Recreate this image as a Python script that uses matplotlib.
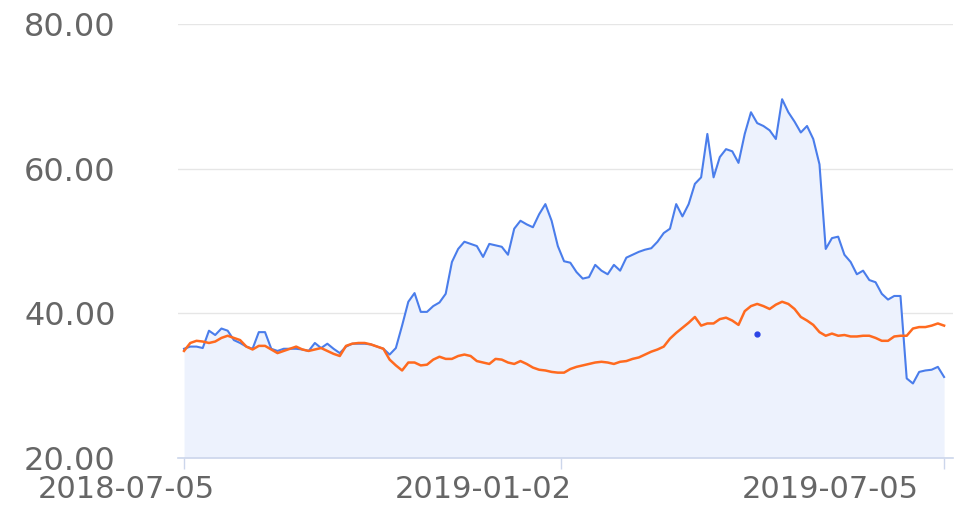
import numpy as np
import pandas as pd
import matplotlib
matplotlib.use("Agg")
import matplotlib.pyplot as plt
from matplotlib.transforms import ScaledTranslation

# data (one sample roughly every 3 days)
start = "2018-07-05"
end = "2019-07-05"
n_points = 123

blue_vals = [
    35.1, 35.4, 35.4, 35.2, 37.6, 37.0, 37.9, 37.6, 36.3, 35.9,
    35.4, 35.1, 37.4, 37.4, 35.1, 34.8, 35.1, 35.1, 35.1, 35.0,
    34.8, 35.9, 35.2, 35.8, 35.1, 34.5, 35.4, 35.8, 35.8, 35.8,
    35.7, 35.4, 35.1, 34.3, 35.2, 38.3, 41.6, 42.8, 40.2, 40.2,
    41.0, 41.5, 42.7, 47.1, 48.9, 49.9, 49.6, 49.3, 47.8, 49.6,
    49.4, 49.2, 48.1, 51.7, 52.8, 52.3, 51.9, 53.7, 55.1, 52.8,
    49.3, 47.2, 47.0, 45.7, 44.8, 45.0, 46.7, 45.9, 45.4, 46.7,
    45.9, 47.7, 48.1, 48.5, 48.8, 49.0, 49.9, 51.1, 51.7, 55.1,
    53.4, 55.1, 57.9, 58.8, 64.8, 58.8, 61.6, 62.7, 62.4, 60.8,
    64.8, 67.8, 66.3, 65.9, 65.3, 64.1, 69.6, 67.8, 66.5, 65.0,
    65.9, 64.1, 60.6, 48.9, 50.4, 50.6, 48.1, 47.1, 45.4, 45.9,
    44.6, 44.3, 42.7, 41.9, 42.4, 42.4, 31.0, 30.3, 31.9, 32.1,
    32.2, 32.6, 31.2,
]

orange_vals = [
    34.8, 35.9, 36.2, 36.1, 35.9, 36.1, 36.6, 36.9, 36.6, 36.3,
    35.4, 35.0, 35.5, 35.5, 35.0, 34.5, 34.8, 35.1, 35.4, 35.0,
    34.8, 35.0, 35.2, 34.8, 34.4, 34.1, 35.5, 35.8, 35.9, 35.9,
    35.7, 35.4, 35.1, 33.6, 32.8, 32.1, 33.2, 33.2, 32.8, 32.9,
    33.6, 34.0, 33.7, 33.7, 34.1, 34.3, 34.1, 33.4, 33.2, 33.0,
    33.7, 33.6, 33.2, 33.0, 33.4, 33.0, 32.5, 32.2, 32.1, 31.9,
    31.8, 31.8, 32.3, 32.6, 32.8, 33.0, 33.2, 33.3, 33.2, 33.0,
    33.3, 33.4, 33.7, 33.9, 34.3, 34.7, 35.0, 35.4, 36.5, 37.3,
    38.0, 38.7, 39.5, 38.3, 38.6, 38.6, 39.2, 39.4, 39.0, 38.4,
    40.3, 41.0, 41.3, 41.0, 40.6, 41.2, 41.6, 41.3, 40.6, 39.5,
    39.0, 38.4, 37.4, 36.9, 37.2, 36.9, 37.0, 36.8, 36.8, 36.9,
    36.9, 36.6, 36.2, 36.2, 36.8, 36.9, 36.9, 37.9, 38.1, 38.1,
    38.3, 38.6, 38.3,
]

dot_date = "2019-04-06"
dot_val = 37.2

y_ticks = [20, 40, 60, 80]
x_tick_dates = ["2018-07-05", "2019-01-02", "2019-07-05"]

dates = pd.date_range(start, end, periods=n_points)

BLUE = "#4a7deb"
ORANGE = "#ff6a1f"
FILL = "#edf2fd"
GRID = "#e6e6e6"
AXIS = "#ccd6eb"
TEXT = "#666666"

fig = plt.figure(figsize=(9.56, 5.12), dpi=100)
ax = fig.add_axes([0.1862, 0.1055, 0.8107, 0.8476])

ax.fill_between(dates, blue_vals, 20, color=FILL, lw=0, zorder=1)
ax.plot(dates, blue_vals, color=BLUE, lw=1.5, zorder=3)
ax.plot(dates, orange_vals, color=ORANGE, lw=1.8, zorder=4)
ax.plot([pd.Timestamp(dot_date)], [dot_val], "o", color="#2b44e6", ms=3.5, zorder=5)

ax.set_ylim(20, 80)
ax.set_xlim(pd.Timestamp(start) - pd.Timedelta(days=2.9),
            pd.Timestamp(end) + pd.Timedelta(days=4.3))

ax.set_yticks(y_ticks)
ax.set_yticklabels(["%.2f" % v for v in y_ticks])
ax.yaxis.grid(True, color=GRID, lw=1)
ax.set_axisbelow(True)
ax.tick_params(axis="y", length=0, pad=45, labelsize=23, labelcolor=TEXT)

ax.set_xticks([pd.Timestamp(d) for d in x_tick_dates])
ax.set_xticklabels(x_tick_dates)
ax.tick_params(axis="x", length=8, width=1, color=AXIS, pad=4,
               labelsize=22, labelcolor=TEXT)

# the labels in the reference sit left of their ticks
shifts = [-58, -78, -114]
for lab, dx in zip(ax.get_xticklabels(), shifts):
    lab.set_transform(lab.get_transform() + ScaledTranslation(dx / 100, 0, fig.dpi_scale_trans))

for side in ["top", "right", "left"]:
    ax.spines[side].set_visible(False)
ax.spines["bottom"].set_color(AXIS)
ax.spines["bottom"].set_linewidth(1.2)

fig.savefig("out.png", dpi=100)
